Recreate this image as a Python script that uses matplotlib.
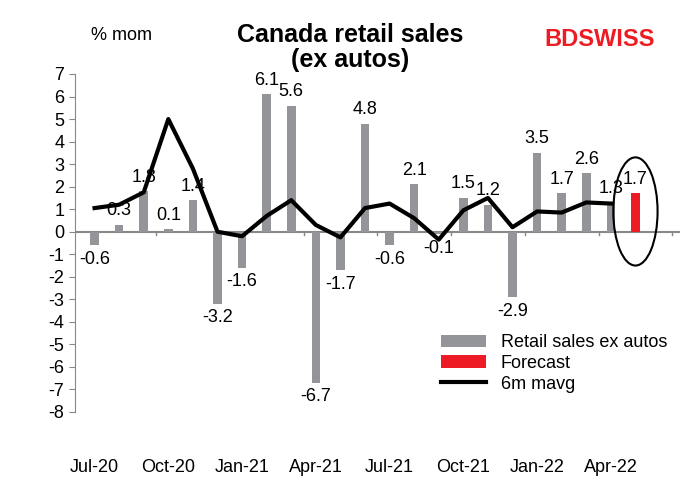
import matplotlib
matplotlib.use("Agg")
import matplotlib.pyplot as plt
from matplotlib.patches import Ellipse
import numpy as np

months = ["Jul-20","Aug-20","Sep-20","Oct-20","Nov-20","Dec-20","Jan-21","Feb-21","Mar-21","Apr-21",
          "May-21","Jun-21","Jul-21","Aug-21","Sep-21","Oct-21","Nov-21","Dec-21","Jan-22","Feb-22",
          "Mar-22","Apr-22","May-22"]
retail = [-0.6,0.3,1.8,0.1,1.4,-3.2,-1.6,6.1,5.6,-6.7,-1.7,4.8,-0.6,2.1,-0.1,1.5,1.2,-2.9,3.5,1.7,2.6,1.3]
forecast = 1.7
mavg = [1.05,1.2,1.75,5.0,2.8,0.0,-0.2,0.7,1.4,0.3,-0.25,1.05,1.25,0.6,-0.35,0.95,1.5,0.2,0.9,0.85,1.3,1.25]
tick_labels = ["Jul-20","Oct-20","Jan-21","Apr-21","Jul-21","Oct-21","Jan-22","Apr-22"]

plt.rcParams["font.family"] = "Liberation Sans"
plt.rcParams["axes.unicode_minus"] = False
fig = plt.figure(figsize=(7,5), dpi=100)
ax = fig.add_axes([0.107, 0.176, 0.864, 0.676])

x = np.arange(len(retail))
b1 = ax.bar(x, retail, width=0.35, color="#939598", label="Retail sales ex autos", zorder=2)
xf = len(retail)
b2 = ax.bar([xf], [forecast], width=0.35, color="#ED1C24", label="Forecast", zorder=2)
l1, = ax.plot(x, mavg, color="black", lw=3, label="6m mavg", zorder=3)

for xi, v in zip(list(x)+[xf], retail+[forecast]):
    if v >= 0:
        ax.text(xi, v+0.25, f"{v:.1f}", ha="center", va="bottom", fontsize=13)
    else:
        ax.text(xi, v-0.25, f"{v:.1f}", ha="center", va="top", fontsize=13)

ax.add_patch(Ellipse((xf, 0.9), 1.8, 4.8, fill=False, lw=1.5, ec="black", zorder=4))

ax.set_xlim(-0.8, 23.8)
ax.set_ylim(-8, 7)
ax.set_yticks(range(-8, 8))
ax.tick_params(axis="y", labelsize=13, length=4, color="#888888")
ax.set_xticks(range(0, 23, 3))
ax.set_xticklabels(tick_labels, fontsize=13)
ax.tick_params(axis="x", length=0, pad=34)
for t in np.arange(2.5, 24, 3):
    ax.plot([t, t], [0, -0.15], color="#888888", lw=1, zorder=1)
ax.axhline(0, color="#888888", lw=1.5, zorder=1)
for s in ["top", "right", "bottom"]:
    ax.spines[s].set_visible(False)
ax.spines["left"].set_color("#888888")

ax.legend([b1, b2, l1], ["Retail sales ex autos", "Forecast", "6m mavg"],
          loc="lower right", bbox_to_anchor=(1.0, 0.02), frameon=False, fontsize=13,
          handlelength=2.5, borderpad=0.2, labelspacing=0.2)

fig.text(0.5, 0.955, "Canada retail sales\n(ex autos)", ha="center", va="top",
         fontsize=18, fontweight="bold", linespacing=1.1)
fig.text(0.13, 0.945, "% mom", fontsize=13, va="top")
fig.text(0.935, 0.945, "BDSWISS", fontsize=17, fontweight="bold", color="#ED1C24", ha="right", va="top")

fig.savefig("out.png", dpi=100)
